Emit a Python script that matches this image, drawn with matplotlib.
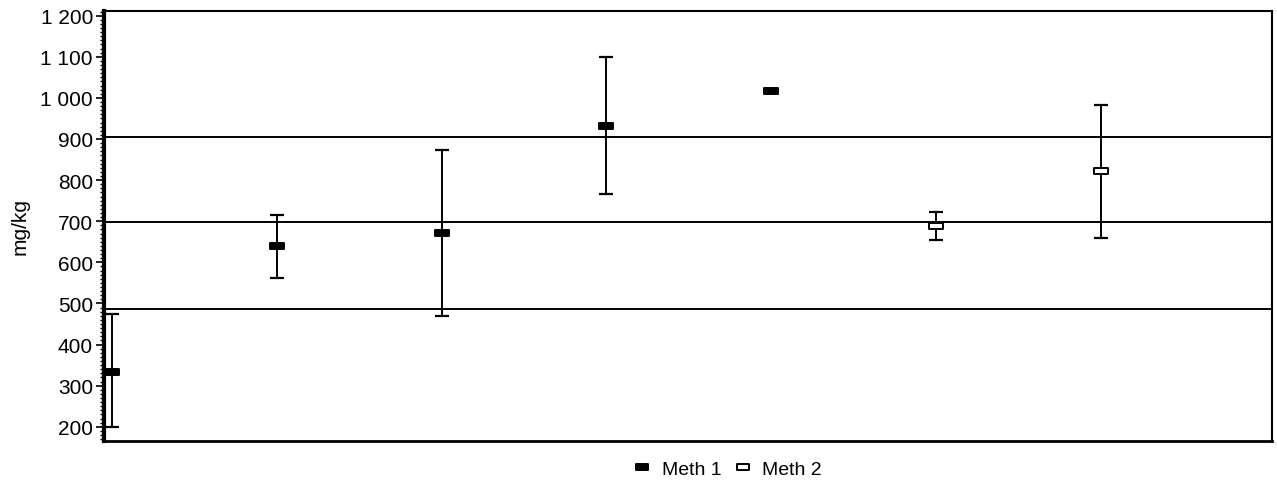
import numpy as np
import matplotlib
matplotlib.use("Agg")
import matplotlib.pyplot as plt
from matplotlib.path import Path
from matplotlib.ticker import MultipleLocator, FuncFormatter

plt.rcParams['font.family'] = ['Liberation Sans', 'DejaVu Sans']

# ============ Dados ============
meth1_x = [1, 2, 3, 4, 5]
meth1_media = [334, 640, 671, 932, 1016]
meth1_inf = [199, 561, 470, 766, np.nan]
meth1_sup = [474, 715, 872, 1099, np.nan]

meth2_x = [6, 7]
meth2_media = [689, 821]
meth2_inf = [654, 658]
meth2_sup = [722, 983]

linhas_ref = [905, 697, 487]
rotulos = ['Meth 1', 'Meth 2']

# marcador retangular achatado
ret = Path([(-1, -0.45), (1, -0.45), (1, 0.45), (-1, 0.45), (-1, -0.45)],
           [Path.MOVETO, Path.LINETO, Path.LINETO, Path.LINETO, Path.CLOSEPOLY])

fig = plt.figure(figsize=(12.77, 4.85), dpi=100)
ax = fig.add_axes([104 / 1277, 1 - 441.7 / 485, (1272 - 104) / 1277, (441.7 - 11.7) / 485])

for y in linhas_ref:
    ax.axhline(y, color='black', lw=1.4, zorder=1)


def desenha(x, media, inf, sup, face, label):
    media = np.array(media, dtype=float)
    err = np.vstack([media - np.array(inf, dtype=float), np.array(sup, dtype=float) - media])
    ax.errorbar(x, media, yerr=err, fmt='none', ecolor='black', elinewidth=1.4,
                capsize=5, capthick=1.6, zorder=2)
    ax.plot(x, media, ls='none', marker=ret, markersize=10, markerfacecolor=face,
            markeredgecolor='black', markeredgewidth=1.4, zorder=3, label=label)


desenha(meth1_x, meth1_media, meth1_inf, meth1_sup, 'black', rotulos[0])
desenha(meth2_x, meth2_media, meth2_inf, meth2_sup, 'white', rotulos[1])

ax.set_xlim(0.951, 8.04)
ax.set_ylim(166, 1212)
ax.set_xticks([])
ax.yaxis.set_major_locator(MultipleLocator(100))
ax.yaxis.set_minor_locator(MultipleLocator(10))
ax.yaxis.set_major_formatter(FuncFormatter(lambda v, p: f"{int(v):,}".replace(',', ' ')))
ax.tick_params(axis='y', which='major', length=6, width=1.2, labelsize=15, direction='out', pad=2)
ax.tick_params(axis='y', which='minor', length=3, width=1.0, direction='out')
ax.set_ylabel('mg/kg', fontsize=15, labelpad=8)

ax.spines['left'].set_linewidth(3)
ax.spines['bottom'].set_linewidth(2)
ax.spines['top'].set_linewidth(1.5)
ax.spines['right'].set_linewidth(1.5)

fig.legend(loc='center', bbox_to_anchor=(727 / 1277, 1 - 470 / 485), ncol=2, frameon=False,
           fontsize=14, handlelength=1.0, handletextpad=0.5, columnspacing=0.6, markerscale=0.9)

fig.savefig('out.png', dpi=100)
